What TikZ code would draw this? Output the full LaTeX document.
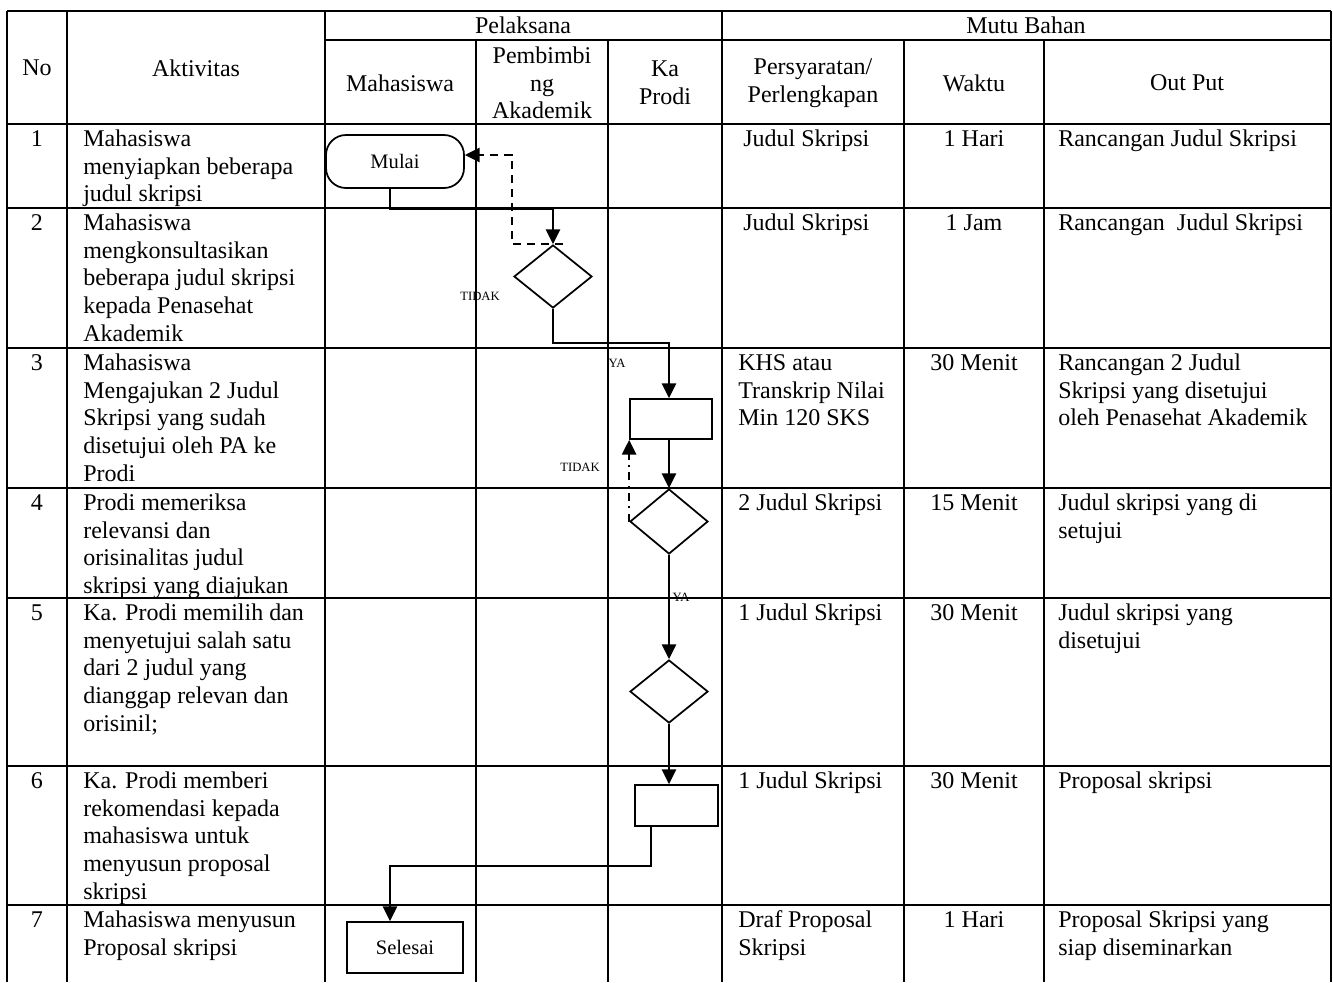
\documentclass[tikz,border=0pt]{standalone}
\usepackage{fontspec}
\setmainfont{Liberation Serif}
\usetikzlibrary{arrows.meta,shapes.geometric,calc}
\newcommand\cellfont{\fontsize{18}{20.8}\selectfont}
\newcommand\flowfont{\fontsize{15.4}{18}\selectfont}
\newcommand\labfont{\fontsize{9.5}{11}\selectfont}
\begin{document}
\begin{tikzpicture}[x=0.75pt,y=-0.75pt,
  gridline/.style={line width=1.5pt},
  cellL/.style={font=\cellfont, inner sep=0pt, anchor=north west, align=left},
  cellC/.style={font=\cellfont, inner sep=0pt, anchor=north, align=center},
  head/.style={font=\cellfont, inner sep=0pt, anchor=center, align=center},
  shapebox/.style={draw, line width=1.3pt, inner sep=0pt, font=\flowfont},
  dia/.style={shapebox, diamond, minimum width=58.5pt},
  flow/.style={line width=1.9pt, -{Triangle[length=11pt,width=10.5pt]}},
  flowplain/.style={line width=1.9pt},
  dashflow/.style={line width=1.9pt, dash pattern=on 6pt off 4.5pt, -{Triangle[length=11pt,width=10.5pt]}},
  dotdashflow/.style={line width=1.9pt, dash pattern=on 6pt off 4pt on 1.5pt off 4pt, -{Triangle[length=11pt,width=10.5pt]}},
  lab/.style={font=\labfont, inner sep=0pt}
]
\useasboundingbox (0,0) rectangle (1333,982);
% ---------- table grid ----------
\draw[gridline] (7,11) -- (1331,11);
\draw[gridline] (325,40) -- (1331,40);
\foreach \yy in {124,208,348,488,598,766,905} {\draw[gridline] (7,\yy) -- (1331,\yy);}
\foreach \xx in {7,67,325,722,1331} {\draw[gridline] (\xx,11) -- (\xx,982);}
\foreach \xx in {476,608,904,1044} {\draw[gridline] (\xx,40) -- (\xx,982);}
% ---------- header ----------
\node[head] (hNo) at (37,68) {No};
\node[head] (hAkt) at (196,68) {Aktivitas};
\node[head] (hPel) at (523,25) {Pelaksana};
\node[head] (hMutu) at (1026,25) {Mutu Bahan};
\node[head] (hMhs) at (400,83) {Mahasiswa};
\node[head] (hPA) at (542,83) {Pembimbi\\ng\\Akademik};
\node[head] (hKa) at (665,83) {Ka\\Prodi};
\node[head] (hSyarat) at (813,83) {Persyaratan/\\Perlengkapan};
\node[head] (hWaktu) at (974,83) {Waktu};
\node[head] (hOut) at (1187,83) {Out Put};
% ---------- numbers ----------
\node[cellC] (n1) at (37,126.6) {\strut 1};
\node[cellC] (n2) at (37,210.6) {\strut 2};
\node[cellC] (n3) at (37,350.6) {\strut 3};
\node[cellC] (n4) at (37,490.6) {\strut 4};
\node[cellC] (n5) at (37,600.6) {\strut 5};
\node[cellC] (n6) at (37,768.6) {\strut 6};
\node[cellC] (n7) at (37,907.6) {\strut 7};
% ---------- aktivitas ----------
\node[cellL] (a1) at (83,126.6) {\strut Mahasiswa\\menyiapkan beberapa\\judul skripsi};
\node[cellL] (a2) at (83,210.6) {\strut Mahasiswa\\mengkonsultasikan\\beberapa judul skripsi\\kepada Penasehat\\Akademik};
\node[cellL] (a3) at (83,350.6) {\strut Mahasiswa\\Mengajukan 2 Judul\\Skripsi yang sudah\\disetujui oleh PA ke\\Prodi};
\node[cellL] (a4) at (83,490.6) {\strut Prodi memeriksa\\relevansi dan\\orisinalitas judul\\skripsi yang diajukan};
\node[cellL] (a5) at (83,600.6) {\strut Ka. Prodi memilih dan\\menyetujui salah satu\\dari 2 judul yang\\dianggap relevan dan\\orisinil;};
\node[cellL] (a6) at (83,768.6) {\strut Ka. Prodi memberi\\rekomendasi kepada\\mahasiswa untuk\\menyusun proposal\\skripsi};
\node[cellL] (a7) at (83,907.6) {\strut Mahasiswa menyusun\\Proposal skripsi};
% ---------- persyaratan ----------
\node[cellL] (p1) at (743,126.6) {\strut Judul Skripsi};
\node[cellL] (p2) at (743,210.6) {\strut Judul Skripsi};
\node[cellL] (p3) at (738,350.6) {\strut KHS atau\\Transkrip Nilai\\Min 120 SKS};
\node[cellL] (p4) at (738,490.6) {\strut 2 Judul Skripsi};
\node[cellL] (p5) at (738,600.6) {\strut 1 Judul Skripsi};
\node[cellL] (p6) at (738,768.6) {\strut 1 Judul Skripsi};
\node[cellL] (p7) at (738,907.6) {\strut Draf Proposal\\Skripsi};
% ---------- waktu ----------
\node[cellC] (w1) at (974,126.6) {\strut 1 Hari};
\node[cellC] (w2) at (974,210.6) {\strut 1 Jam};
\node[cellC] (w3) at (974,350.6) {\strut 30 Menit};
\node[cellC] (w4) at (974,490.6) {\strut 15 Menit};
\node[cellC] (w5) at (974,600.6) {\strut 30 Menit};
\node[cellC] (w6) at (974,768.6) {\strut 30 Menit};
\node[cellC] (w7) at (974,907.6) {\strut 1 Hari};
% ---------- output ----------
\node[cellL] (o1) at (1058,126.6) {\strut Rancangan Judul Skripsi};
\node[cellL] (o2) at (1058,210.6) {\strut Rancangan\ \ Judul Skripsi};
\node[cellL] (o3) at (1058,350.6) {\strut Rancangan 2 Judul\\Skripsi yang disetujui\\oleh Penasehat Akademik};
\node[cellL] (o4) at (1058,490.6) {\strut Judul skripsi yang di\\setujui};
\node[cellL] (o5) at (1058,600.6) {\strut Judul skripsi yang\\disetujui};
\node[cellL] (o6) at (1058,768.6) {\strut Proposal skripsi};
\node[cellL] (o7) at (1058,907.6) {\strut Proposal Skripsi yang\\siap diseminarkan};
% ---------- flowchart shapes ----------
\node[shapebox, rounded corners=15pt, minimum width=103.5pt, minimum height=39.75pt] (mulai) at (395,161.5) {Mulai};
\node[dia, minimum height=47.25pt] (d2) at (553,276.5) {};
\node[shapebox, minimum width=61.5pt, minimum height=30pt] (r3) at (671,419) {};
\node[dia, minimum height=48.75pt] (d4) at (669,521.5) {};
\node[dia, minimum height=47.25pt] (d5) at (669,691.5) {};
\node[shapebox, minimum width=62.25pt, minimum height=30.75pt] (r6) at (676.5,805.5) {};
\node[shapebox, minimum width=87pt, minimum height=38.25pt] (sel) at (405,947.5) {Selesai};
% ---------- labels ----------
\node[lab] (tidak1) at (480,296) {TIDAK};
\node[lab] (ya1) at (617,363) {YA};
\node[lab] (tidak2) at (580,467) {TIDAK};
\node[lab] (ya2) at (681,597) {YA};
% ---------- connectors ----------
\coordinate (c1) at (553,209);
\draw[flow] ($(mulai.south)+(-5,0)$) |- (c1) -- (d2.north);
\coordinate (t1) at (512,155);
\draw[dashflow] ($(d2.north)+(10,0)$) -| (t1) -- (t1 -| mulai.east);
\coordinate (c2) at (669,343);
\draw[flow] (d2.south) |- (c2) -- (c2 |- r3.north);
\draw[flow] (r3.south -| d4.north) -- (d4.north);
\draw[dotdashflow] (d4.west) -- (r3.south west);
\draw[flow] (d4.south) -- (d5.north);
\draw[flow] (d5.south) -- (d5.south |- r6.north);
\coordinate (c3) at (390,866);
\draw[flow] ($(r6.south)+(-25.5,0)$) |- (c3) -- (c3 |- sel.north);
\end{tikzpicture}
\end{document}
